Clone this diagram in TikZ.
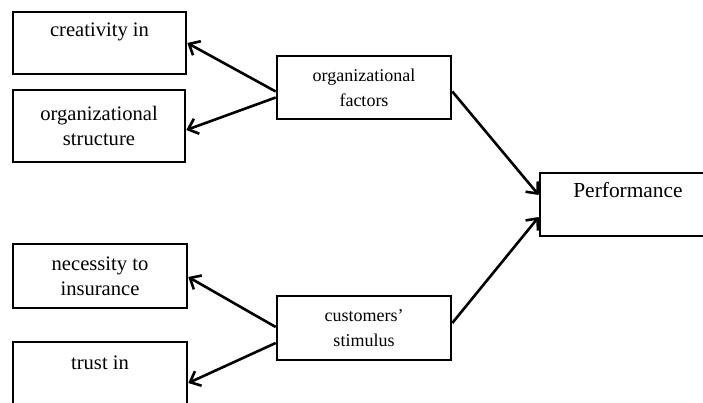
\documentclass[tikz,border=0pt]{standalone}
\usepackage{fontspec}
\setmainfont{Liberation Serif}
\usepackage{tikz}
\usetikzlibrary{arrows,arrows.meta,shapes,positioning}

\begin{document}
\begin{tikzpicture}[x=1pt, y=-1pt,
		outerbox/.style={draw, line width=2.6pt, align=center, inner sep=0pt, font=\fontsize{20.6}{25}\selectfont},
		innerbox/.style={draw, line width=2.6pt, align=center, inner sep=0pt, minimum width=174pt, font=\fontsize{18}{25}\selectfont},
		link/.style={line width=2.6pt, -{Straight Barb[length=9pt, width=16pt, line width=2.6pt]}}]
	\useasboundingbox (0,0) rectangle (703,403);
	\clip (0,0) rectangle (703,403);
	\node[outerbox, minimum width=173pt, minimum height=62pt] (crea) at (99.5,43) {creativity in\\[-6pt] \strut};
	\node[outerbox, minimum width=172pt, minimum height=72pt] (struc) at (99,126) {organizational\\structure};
	\node[outerbox, minimum width=174pt, minimum height=64pt] (nec) at (100,276) {necessity to\\insurance};
	\node[outerbox, minimum width=174pt, minimum height=68pt] (trust) at (100,376) {trust in\\[-6pt] \strut};
	\node[innerbox, minimum height=63pt] (orgf) at (364,87.5) {organizational\\factors};
	\node[innerbox, minimum height=64pt] (cust) at (364,328) {customers'\\stimulus};
	\node[outerbox, font=\fontsize{21.4}{25}\selectfont, minimum width=176pt, minimum height=63pt] (perf) at (628,204.5) {Performance\\[-4pt] \strut};
	\draw[link] ([yshift=-4pt]orgf.west) -- (crea.east);
	\draw[link] ([yshift=-10pt]orgf.west) -- ([yshift=-4pt]struc.east);
	\draw[link] ([yshift=1pt]cust.west) -- ([yshift=-1pt]nec.east);
	\draw[link] ([yshift=-15pt]cust.west) -- ([yshift=-7pt]trust.east);
	\draw[link] ([yshift=-4pt]orgf.east) -- ([yshift=9.5pt]perf.west);
	\draw[link] ([yshift=5pt]cust.east) -- ([yshift=-12.5pt]perf.west);
\end{tikzpicture}
\end{document}
